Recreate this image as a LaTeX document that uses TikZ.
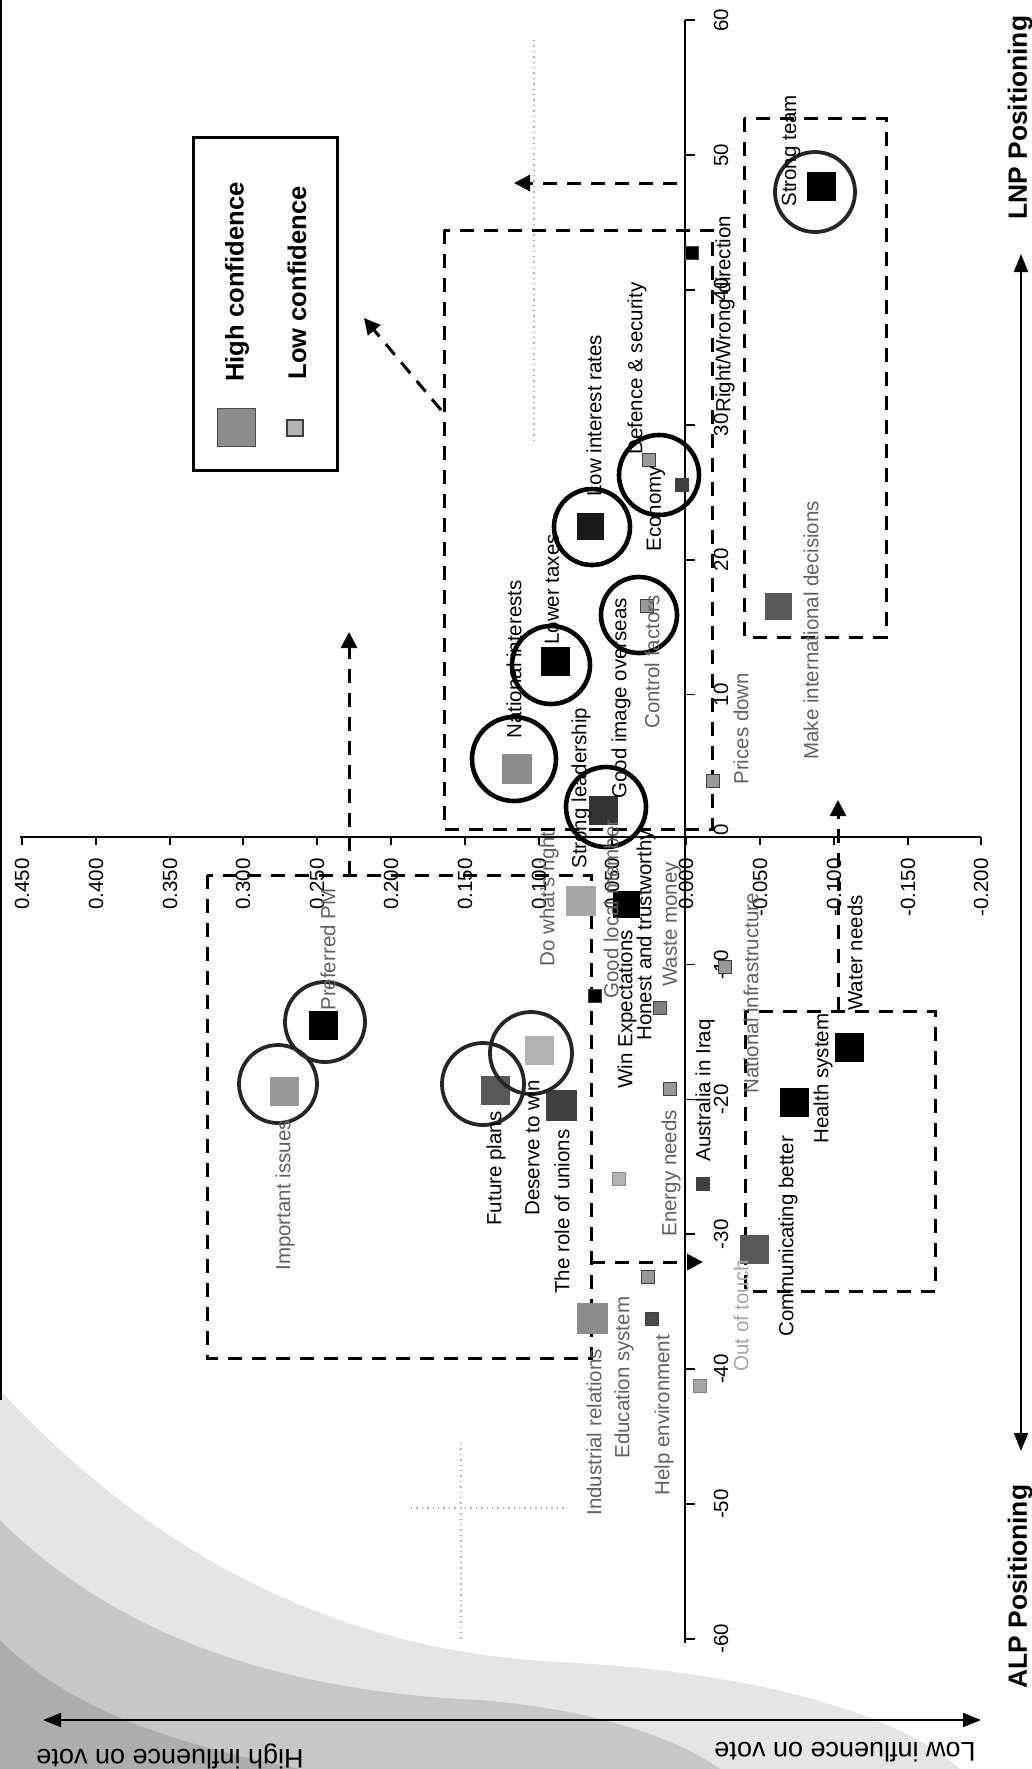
\documentclass[tikz,border=0pt]{standalone}
\usepackage{fontspec}
\setmainfont{Liberation Sans}
\usetikzlibrary{arrows.meta}
\newcommand\lblfont{\fontsize{10.25}{12}\selectfont}
\newcommand\legfont{\fontsize{12.8}{15}\selectfont\bfseries}
\newcommand\axfont{\fontsize{13.2}{15}\selectfont\bfseries}
\newcommand\inffont{\fontsize{13.5}{15}\selectfont}
\begin{document}
\begin{tikzpicture}[x=0.5pt,y=-0.5pt,
  lbl/.style={font=\lblfont, rotate=90, anchor=west, inner sep=0pt},
  lite/.style={lbl, text=black!62},
  faint/.style={lbl, text=black!35},
  ticklbl/.style={font=\lblfont, rotate=90, inner sep=0pt},
  hisq/.style={rectangle, inner sep=0pt, minimum size=14.5pt, draw=none},
  losq/.style={rectangle, inner sep=0pt, minimum size=6.5pt, draw=black!75, line width=0.6pt},
  ring/.style={circle, draw, line width=2.3pt, inner sep=0pt},
  fuzzring/.style={circle, draw=black!85, line width=1.9pt, inner sep=0pt},
  dbox/.style={draw, line width=1.5pt, dash pattern=on 7pt off 5pt},
  darr/.style={dbox, -{Triangle[length=8pt,width=8pt]}},
  dotl/.style={draw=black!30, line width=0.7pt, dotted}
]
\useasboundingbox (0,0) rectangle (1032,1769);
% scan shading bottom-left
\fill[black!10] (0,1390) .. controls (120,1520) and (300,1650) .. (560,1662) .. controls (760,1672) and (900,1715) .. (960,1769) -- (0,1769) -- cycle;
\fill[black!22] (0,1520) .. controls (100,1620) and (250,1690) .. (480,1700) .. controls (600,1710) and (680,1740) .. (720,1769) -- (0,1769) -- cycle;
\fill[black!32] (0,1640) .. controls (60,1700) and (150,1740) .. (300,1769) -- (0,1769) -- cycle;
% left page edge
\draw[line width=0.8pt] (1,0) -- (1,1400);
% faint dotted lines
\draw[dotl] (534,40) -- (534,440);
\draw[dotl] (461,1443) -- (461,1640);
\draw[dotl] (411,1508) -- (564,1508);

% legend
\node[draw, line width=1.5pt, minimum width=72pt, minimum height=166.5pt, inner sep=0pt] (leg) at (265,303.5) {};
\node[hisq, fill=black!45, draw=black!70, line width=0.6pt, minimum size=19pt] (lgA) at (236.5,427.5) {};
\node[losq, fill=black!30, line width=1pt, minimum size=8pt] (lgB) at (295,427.5) {};
\node[font=\legfont, rotate=90, anchor=west, inner sep=0pt] (lgtA) at (237,382) {High confidence};
\node[font=\legfont, rotate=90, anchor=west, inner sep=0pt] (lgtB) at (297,380) {Low confidence};

% axes
\coordinate (ia1) at (20,837);
\coordinate (ia2) at (981,837);
\draw[line width=0.9pt] (ia1) -- (ia2);
\foreach \x/\t in {22/0.450,96/0.400,170/0.350,243/0.300,317/0.250,391/0.200,465/0.150,539/0.100,612/0.050,686/0.000,760/-0.050,834/-0.100,908/-0.150,981/-0.200}{
  \draw[line width=0.8pt] (\x,837) -- (\x,845);
  \node[ticklbl, anchor=east] at (\x,858) {\t};
}
\coordinate (pa1) at (685,20);
\coordinate (pa2) at (685,1643);
\draw[line width=0.9pt] (pa1) -- (pa2);
\foreach \p in {-60,-50,-40,-30,-20,-10,0,10,20,30,40,50,60}{
  \pgfmathsetmacro\yy{829.5-13.49*\p}
  \draw[line width=0.8pt] (685,\yy) -- (695,\yy);
  \node[ticklbl] at (721,\yy) {\p};
}

% positioning arrow
\node[font=\axfont, rotate=90, anchor=west, inner sep=0pt] (lnp) at (1020,220) {LNP Positioning};
\node[font=\axfont, rotate=90, anchor=west, inner sep=0pt] (alp) at (1020,1689) {ALP Positioning};
\coordinate (pt1) at (1021,1451);
\coordinate (pt2) at (1021,254);
\draw[line width=1pt, {Triangle[length=9pt,width=7pt]}-{Triangle[length=9pt,width=7pt]}] (pt1) -- (pt2);
% influence arrow
\node[font=\inffont, rotate=180, inner sep=0pt] (hiv) at (170,1756) {High influence on vote};
\node[font=\inffont, rotate=180, inner sep=0pt] (lov) at (845,1752) {Low influence on vote};
\coordinate (it1) at (43,1720);
\coordinate (it2) at (981,1720);
\draw[line width=1pt, {Triangle[length=9pt,width=7pt]}-{Triangle[length=9pt,width=7pt]}] (it1) -- (it2);

% dashed boxes
\draw[dbox] (444,230) rectangle (712,829);
\draw[dbox] (744,118) rectangle (886,637);
\draw[dbox] (207,875) rectangle (591,1358);
\draw[dbox] (745,1011) rectangle (935,1291);
% dashed arrows
\coordinate (da1s) at (441,410); \coordinate (da1e) at (364,318);
\draw[darr] (da1s) -- (da1e);
\coordinate (da2s) at (677,183); \coordinate (da2e) at (514,183);
\draw[darr] (da2s) -- (da2e);
\coordinate (da3s) at (349,875); \coordinate (da3e) at (349,632);
\draw[darr] (da3s) -- (da3e);
\coordinate (da4s) at (838,1011); \coordinate (da4e) at (838,800);
\draw[darr] (da4s) -- (da4e);
\coordinate (da5s) at (591,1262); \coordinate (da5e) at (703,1262);
\draw[darr] (da5s) -- (da5e);

% high confidence squares
\node[hisq, fill=black!40] (m1) at (284,1091) {};
\node[hisq, fill=black] (m2) at (323,1025) {};
\node[hisq, fill=black!65] (m3) at (495,1090) {};
\node[hisq, fill=black!30] (m4) at (539,1050) {};
\node[hisq, fill=black!75, minimum size=15.5pt] (m5) at (561,1105) {};
\node[hisq, fill=black!45, minimum size=15.5pt] (m6) at (592,1318) {};
\node[hisq, fill=black!35, minimum size=15pt] (m7) at (581,901) {};
\node[hisq, fill=black, minimum size=13.5pt] (m8) at (626,904) {};
\node[hisq, fill=black!80] (m9) at (603,810) {};
\node[hisq, fill=black!45, minimum size=15pt] (m10) at (517,769) {};
\node[hisq, fill=black] (m11) at (555,661) {};
\node[hisq, fill=black!90, minimum size=13.5pt] (m12) at (590,526) {};
\node[hisq, fill=black] (m13) at (821,186) {};
\node[hisq, fill=black!65, minimum size=13.5pt] (m14) at (778,606) {};
\node[hisq, fill=black!65] (m15) at (754,1249) {};
\node[hisq, fill=black] (m16) at (794,1102) {};
\node[hisq, fill=black] (m17) at (849,1047) {};
% low confidence squares
\node[losq, fill=black] (s1) at (692,253) {};
\node[losq, fill=black!40] (s2) at (649,460) {};
\node[losq, fill=black!75] (s3) at (682,485) {};
\node[losq, fill=black!40] (s4) at (647,606) {};
\node[losq, fill=black!40] (s5) at (713,781) {};
\node[losq, fill=black] (s6) at (595,996) {};
\node[losq, fill=black!50] (s7) at (660,1008) {};
\node[losq, fill=black!40] (s8) at (670,1089) {};
\node[losq, fill=black!30, draw=black!45] (s9) at (619,1179) {};
\node[losq, fill=black!40] (s10) at (648,1277) {};
\node[losq, fill=black!70] (s11) at (652,1319) {};
\node[losq, fill=black!75] (s12) at (703,1184) {};
\node[losq, fill=black!40] (s13) at (725,967) {};
\node[losq, fill=black!35, draw=black!50] (s14) at (700,1386) {};

% circles
\node[fuzzring, minimum size=39pt] (c1) at (278,1084) {};
\node[fuzzring, minimum size=40pt] (c2) at (325,1022) {};
\node[fuzzring, minimum size=41pt] (c3) at (483,1084) {};
\node[fuzzring, minimum size=41pt] (c4) at (531,1053) {};
\node[ring, minimum size=42pt] (c5) at (514,759) {};
\node[ring, minimum size=39pt] (c6) at (551,665) {};
\node[ring, minimum size=38pt] (c7) at (592,527) {};
\node[ring, minimum size=40pt] (c8) at (659,475) {};
\node[ring, minimum size=38pt] (c9) at (639,615) {};
\node[ring, minimum size=40pt] (c10) at (606,807) {};
\node[fuzzring, minimum size=40pt] (c11) at (815,192) {};

% labels
\node[lite] (t1) at (285,1271) {Important issues};
\node[lite] (t2) at (328,1011) {Preferred PM};
\node[lbl] (t3) at (496,1226) {Future plans};
\node[lbl] (t4) at (532,1216) {Deserve to win};
\node[lbl] (t5) at (562,1294) {The role of unions};
\node[lite] (t6) at (594,1516) {Industrial relations};
\node[lite] (t7) at (624,1459) {Education system};
\node[lite] (t8) at (664,1496) {Help environment};
\node[lite] (t9) at (671,1237) {Energy needs};
\node[lbl] (t10) at (705,1162) {Australia in Iraq};
\node[faint] (t11) at (741,1372) {Out of touch};
\node[lbl] (t12) at (788,1337) {Communicating better};
\node[lbl] (t13) at (823,1144) {Health system};
\node[lbl] (t14) at (855,1011) {Water needs};
\node[lite] (t15) at (751,1094) {National infrastructure};
\node[lite] (t16) at (672,987) {Waste money};
\node[lbl] (t17) at (646,1041) {Honest and trustworthy};
\node[lbl] (t18) at (627,1089) {Win Expectations};
\node[lite] (t19) at (611,999) {Good local member};
\node[lite] (t20) at (549,967) {Do what's right};
\node[lbl] (t21) at (581,869) {Strong leadership};
\node[lbl] (t22) at (621,799) {Good image overseas};
\node[lite] (t23) at (652,729) {Control factors};
\node[lbl] (t24) at (514,739) {National interests};
\node[lbl] (t25) at (552,645) {Lower taxes};
\node[lbl] (t26) at (594,497) {Low interest rates};
\node[lbl] (t27) at (656,552) {Economy};
\node[lbl] (t28) at (637,455) {Defence \& security};
\node[lbl] (t29) at (725,413) {Right/Wrong direction};
\node[lite] (t30) at (741,785) {Prices down};
\node[lite] (t31) at (811,760) {Make international decisions};
\node[lbl] (t32) at (791,207) {Strong team};
\end{tikzpicture}
\end{document}
